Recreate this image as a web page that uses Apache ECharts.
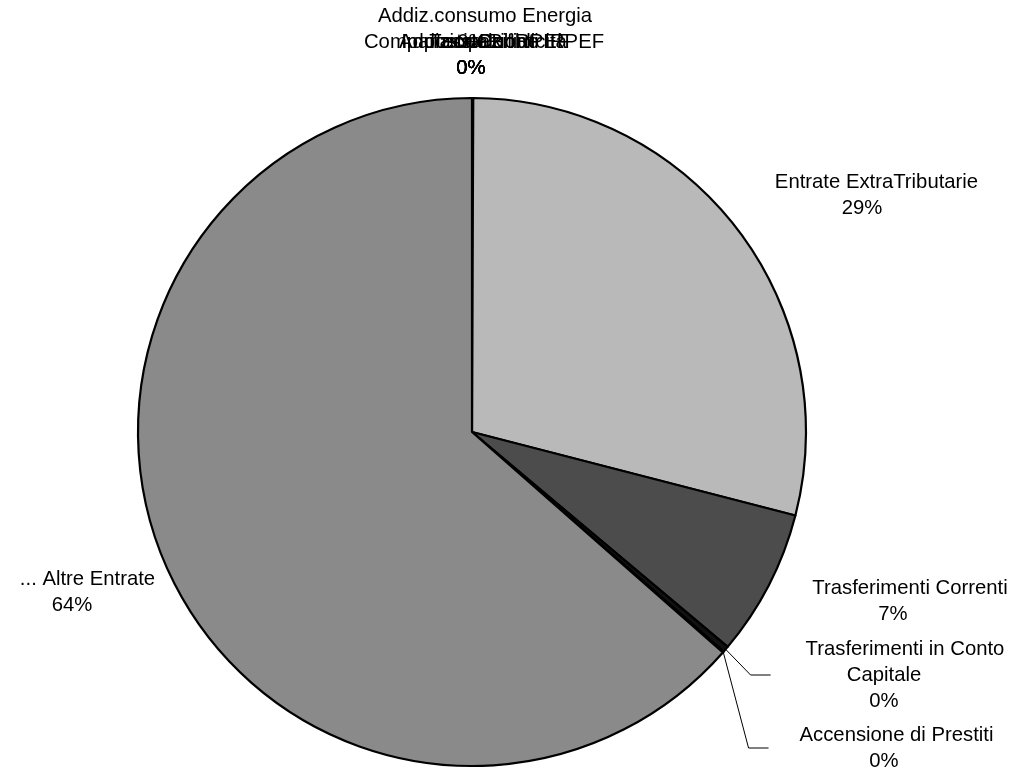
<!DOCTYPE html>
<html><head><meta charset="utf-8">
<script src="https://cdn.jsdelivr.net/npm/echarts@6/dist/echarts.min.js"></script>
<style>html,body{margin:0;padding:0;background:#fff}#c{width:1014px;height:779px}</style>
</head><body><div id="c"></div>
<script>
// ---- data ----
const categories = [
  'Addiz.consumo Energia',
  'Compartecipazione IRPEF',
  'Tassa Rifiuti',
  'Addizionale IRPEF',
  'ICI',
  'Imposta Pubblicità',
  'Entrate ExtraTributarie',
  'Trasferimenti Correnti',
  'Trasferimenti in Conto Capitale',
  'Accensione di Prestiti',
  '... Altre Entrate'
];
const values = [0.01, 0.01, 0.01, 0.01, 0.01, 0.01, 28.95, 7.1, 0.3, 0.05, 63.5];

// ---- styles / layout (not data) ----
const sliceColors = ['#ffffff','#ffffff','#ffffff','#ffffff','#ffffff','#ffffff',
                     '#b9b9b9','#4c4c4c','#111111','#ffffff','#8a8a8a'];
// label block centre (cx, cy), right padding of following lines (pr), left padding (pl)
const labelPlace = [
  {cx: 485, cy: 29, pr: 26},
  {cx: 484, cy: 55, pr: 26},
  {cx: 484, cy: 55, pr: 26},
  {cx: 484, cy: 55, pr: 26},
  {cx: 484, cy: 55, pr: 26},
  {cx: 484, cy: 55, pr: 26},
  {cx: 876.5, cy: 195, pr: 29},
  {cx: 910, cy: 601, pr: 34},
  {cx: 905, cy: 675, pr: 42, pl: 35, line: true},
  {cx: 896.5, cy: 748, pr: 25, pl: 31, line: true},
  {cx: 87.5, cy: 592, pr: 31}
];

const FONT = "'Liberation Sans', Arial, Helvetica, sans-serif";
const FS = 20.3, LH = 26;

function wrap(text, maxChars) {
  const words = text.split(' ');
  const lines = [];
  let cur = '';
  words.forEach(w => {
    const t = cur ? cur + ' ' + w : w;
    if (t.length > maxChars && cur) { lines.push(cur); cur = w; }
    else cur = t;
  });
  if (cur) lines.push(cur);
  return lines;
}

const rich = { n: { fontSize: FS, lineHeight: LH, fontFamily: FONT, color: '#000' } };
labelPlace.forEach((p, i) => {
  rich['r' + i] = { fontSize: FS, lineHeight: LH, fontFamily: FONT, color: '#000', padding: [0, p.pr, 0, 0] };
});

const seriesData = categories.map((name, i) => {
  const p = labelPlace[i];
  const item = {
    name: name,
    value: values[i],
    itemStyle: { color: sliceColors[i] },
    label: { padding: [0, 0, 0, p.pl || 0] }
  };
  if (p.line) item.labelLine = { show: true, length: 10, length2: 20, lineStyle: { color: '#000', width: 1 } };
  return item;
});

const chart = echarts.init(document.getElementById('c'), null, { renderer: 'canvas' });
chart.setOption({
  backgroundColor: '#ffffff',
  animation: false,
  series: [{
    type: 'pie',
    center: [472, 432],
    radius: 334,
    startAngle: 90,
    clockwise: true,
    avoidLabelOverlap: false,
    data: seriesData,
    itemStyle: { borderColor: '#000', borderWidth: 2.2 },
    emphasis: { disabled: true },
    label: {
      show: true,
      position: 'outside',
      fontFamily: FONT,
      fontSize: FS,
      lineHeight: LH,
      color: '#000',
      formatter: function (params) {
        const i = params.dataIndex;
        const lines = wrap(params.name, 23);
        lines.push(Math.round(params.percent) + '%');
        return lines.map((l, k) => (k === 0 ? '{n|' : '{r' + i + '|') + l + '}').join('\n');
      },
      rich: rich
    },
    labelLine: { show: false, lineStyle: { color: '#000', width: 1 } },
    labelLayout: function (params) {
      const p = labelPlace[params.dataIndex];
      return {
        x: p.cx - (p.pl || 0) / 2,
        y: p.cy,
        align: 'center',
        verticalAlign: 'middle'
      };
    }
  }]
});
</script>
</body></html>
